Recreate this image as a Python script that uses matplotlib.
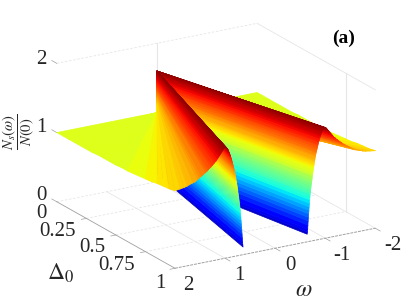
import numpy as np
import matplotlib
matplotlib.use("Agg")
import matplotlib.pyplot as plt

plt.rcParams['font.family'] = ['Liberation Serif', 'DejaVu Serif']
plt.rcParams['mathtext.fontset'] = 'stix'

# values, along the front edge (delta = 1)
# wall between the gap and the peak
wall_omega = [0.640, 0.645, 0.650, 0.655, 0.660, 0.665, 0.670, 0.675, 0.680, 0.685, 0.690, 0.695,
              0.700, 0.705, 0.710, 0.715, 0.720, 0.725, 0.730, 0.735, 0.740, 0.745, 0.750, 0.755,
              0.760, 0.765, 0.770, 0.775, 0.780, 0.785, 0.790, 0.795, 0.800, 0.805, 0.810, 0.815,
              0.820, 0.825, 0.830, 0.835, 0.840, 0.845, 0.850, 0.855, 0.860, 0.865, 0.870, 0.875,
              0.880, 0.885, 0.890, 0.895, 0.900, 0.905, 0.910, 0.915, 0.920, 0.925, 0.930, 0.935,
              0.940, 0.945, 0.950, 0.955, 0.960, 0.965, 0.970, 0.975, 0.980, 0.985, 0.990, 0.995, 1.000]
wall_dos = [0.11, 0.14, 0.18, 0.24, 0.30, 0.35, 0.40, 0.45, 0.50, 0.55, 0.60, 0.64,
            0.68, 0.71, 0.74, 0.77, 0.80, 0.83, 0.85, 0.88, 0.90, 0.94, 0.96, 0.99,
            1.01, 1.03, 1.06, 1.08, 1.10, 1.13, 1.15, 1.17, 1.19, 1.21, 1.23, 1.245,
            1.26, 1.275, 1.29, 1.305, 1.32, 1.335, 1.35, 1.365, 1.38, 1.395, 1.41, 1.42,
            1.43, 1.445, 1.46, 1.47, 1.48, 1.49, 1.50, 1.51, 1.52, 1.53, 1.54, 1.55,
            1.56, 1.565, 1.57, 1.575, 1.58, 1.585, 1.59, 1.595, 1.60, 1.60, 1.60, 1.60, 1.60]
# from the peak out to |omega| = 2
tail_omega = [1.01, 1.02, 1.03, 1.04, 1.05, 1.06, 1.07, 1.08, 1.09, 1.10, 1.11, 1.12, 1.13, 1.14, 1.15,
              1.16, 1.17, 1.18, 1.19, 1.20, 1.21, 1.22, 1.23, 1.24, 1.25, 1.26, 1.27, 1.28, 1.29, 1.30,
              1.33, 1.36, 1.40, 1.44, 1.48, 1.52, 1.56, 1.60, 1.65, 1.70, 1.76, 1.82, 1.90, 2.00]
tail_dos = [1.595, 1.59, 1.58, 1.57, 1.56, 1.55, 1.54, 1.53, 1.52, 1.51, 1.50, 1.49, 1.48, 1.47, 1.46,
            1.45, 1.44, 1.43, 1.425, 1.42, 1.41, 1.40, 1.395, 1.39, 1.38, 1.375, 1.37, 1.36, 1.355, 1.35,
            1.33, 1.31, 1.29, 1.27, 1.25, 1.23, 1.21, 1.19, 1.18, 1.17, 1.15, 1.14, 1.13, 1.12]
# along the side edges (omega = +-2)
side_delta = [0.95, 0.90, 0.85, 0.80, 0.75, 0.70, 0.65, 0.60, 0.55, 0.50,
              0.45, 0.40, 0.35, 0.30, 0.25, 0.20, 0.15, 0.10, 0.05, 0.00]
side_dos = [1.10, 1.09, 1.08, 1.06, 1.05, 1.04, 1.03, 1.02, 1.02, 1.01,
            1.01, 1.01, 1.01, 1.00, 1.00, 1.00, 1.00, 1.00, 1.00, 1.00]

z_ticks = ['0', '1', '2']
W, H = 415, 302
text_col = '#262626'


def px(x, y):
    return x / W, 1 - y / H


fig = plt.figure(figsize=(4.15, 3.02), dpi=100)
ax = fig.add_axes([36.8 / W, -23 / H, 349 / W, 349 / H], projection='3d', computed_zorder=False)
ax.set_proj_type('ortho')
ax.view_init(elev=19.6, azim=59.2)
ax.set_box_aspect((1, 0.99, 0.63))
ax.set_xlim(-2, 2, view_margin=0)
ax.set_ylim(0, 1, view_margin=0)
ax.set_zlim(0, 2, view_margin=0)
ax.set_axis_off()

# walls and floor
light = '#e6e6e6'
for d in [0.25, 0.5, 0.75]:
    ax.plot([2, -2], [d, d], [0, 0], color=light, lw=0.6, ls=(0, (3, 2)), zorder=1)
for w in [1, 0, -1]:
    ax.plot([w, w], [0, 1], [0, 0], color=light, lw=0.6, zorder=1)
ax.plot([2, -2], [0, 0], [0, 0], color=light, lw=0.6, ls=(0, (3, 2)), zorder=1)
ax.plot([-2, -2], [0, 1], [0, 0], color=light, lw=0.6, zorder=1)
ax.plot([2, -2], [0, 0], [2, 2], color=light, lw=0.6, ls=(0, (3, 2)), zorder=1)
ax.plot([-2, -2], [0, 1], [2, 2], color=light, lw=0.6, zorder=1)
ax.plot([0, 0], [0, 0], [0, 2], color=light, lw=0.8, zorder=1)
ax.plot([-2, -2], [0.75, 0.75], [0, 2], color=light, lw=0.8, zorder=1)

# axis lines and ticks
axis_col = '#a0a0a0'
ax.plot([2, 2], [0, 1], [0, 0], color=axis_col, lw=0.6, zorder=1)
ax.plot([2, -2], [1, 1], [0, 0], color=axis_col, lw=0.7, ls=(0, (3, 1)), zorder=1)
for z in [0, 1, 2]:
    ax.plot([2, 2], [0, -0.042], [z, z], color=axis_col, lw=0.5, zorder=1)
for d in [0.25, 0.5, 0.75, 1]:
    ax.plot([2, 2.1], [d, d], [0, 0], color=axis_col, lw=0.5, zorder=1)
for w in [1, 0, -1, -2]:
    ax.plot([w, w], [1, 1.042], [0, 0], color=axis_col, lw=0.5, zorder=1)

# fan of strips from the (0, 0) corner out to the outer edge
cmap = plt.get_cmap('jet', 64)
edge_omega = wall_omega + tail_omega
omega_out = np.array(edge_omega + [2.0] * len(side_delta))
delta_out = np.array([1.0] * len(edge_omega) + side_delta)
dos_out = np.array(wall_dos + tail_dos + side_dos)
face = cmap((dos_out[:-1] + dos_out[1:]) / 2 / 1.64)[None, :, :]

for sign, zo in [(-1, 2), (1, 3)]:
    X = np.vstack([0 * omega_out, sign * omega_out])
    Y = np.vstack([0 * delta_out, delta_out])
    Z = np.vstack([dos_out, dos_out])
    ax.plot_surface(X, Y, Z, facecolors=face, rstride=1, cstride=1, shade=False,
                    linewidth=0.5, zorder=zo)

# text
for lab, yy in zip(z_ticks, [196, 127, 59]):
    fig.text(*px(41, yy), lab, fontsize=15, color=text_col, ha='center', va='center')
for lab, xx, yy in [('0', 41, 214), ('0.25', 57, 231), ('0.5', 92, 248), ('0.75', 117, 265), ('1', 160, 283)]:
    fig.text(*px(xx, yy), lab, fontsize=15, color=text_col, ha='center', va='center')
for lab, xx, yy in [('2', 188, 286), ('1', 239, 275), ('0', 290, 265), ('-1', 342, 256), ('-2', 393, 245)]:
    fig.text(*px(xx, yy), lab, fontsize=15, color=text_col, ha='center', va='center')
fig.text(*px(61, 273), r'$\Delta_0$', fontsize=17, color=text_col, ha='center', va='center')
fig.text(*px(304, 291), r'$\omega$', fontsize=17, color=text_col, ha='center', va='center')
fig.text(*px(18, 132), r'$\dfrac{N_s(\omega)}{N(0)}$', fontsize=10.5, color=text_col, rotation=90,
         ha='center', va='center')
fig.text(*px(344, 38), '(a)', fontsize=14, fontweight='bold', ha='center', va='center')

fig.savefig('out.png', dpi=100)
